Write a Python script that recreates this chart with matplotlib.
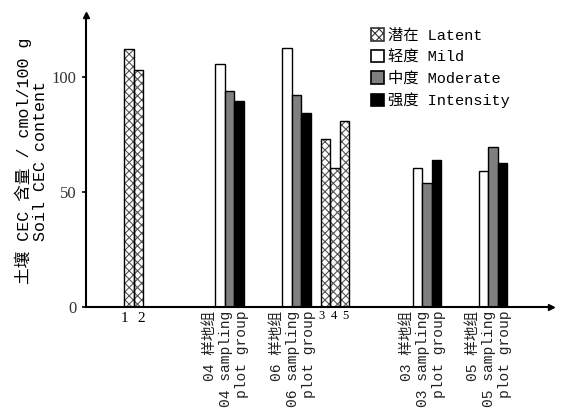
import matplotlib.pyplot as plt
import matplotlib.patches as mpatches

plt.rcParams['font.family'] = ['Liberation Mono', 'Noto Sans CJK SC']
plt.rcParams['hatch.linewidth'] = 0.8

# data (soil CEC, cmol/100 g)
latent_a = [112, 103]          # plots 1, 2
g04 = [105.5, 94, 89.5]        # mild, moderate, intensity
g06 = [112.5, 92, 84.5]
latent_b = [73, 60.5, 81]      # plots 3, 4, 5
g03 = [60.5, 54, 64]
g05 = [59, 69.5, 62.5]

series_names = ['潜在 Latent', '轻度 Mild', '中度 Moderate', '强度 Intensity']
group_labels = ['04 样地组\n04 sampling\nplot group',
                '06 样地组\n06 sampling\nplot group',
                '03 样地组\n03 sampling\nplot group',
                '05 样地组\n05 sampling\nplot group']

# layout
pos_la = [4.5, 5.5]
pos_lb = [25, 26, 27]
grp_pos = [15, 22, 35.6, 42.5]
colors = ['white', '#7f7f7f', 'black']

fig = plt.figure(figsize=(5.61, 4.12), dpi=100)
ax = fig.add_axes([0.153, 0.255, 0.83, 0.709])

def latent_bars(xs, vals):
    ax.bar(xs, vals, width=1, color='white', edgecolor='#555555', hatch='xxxx', lw=0)
    ax.bar(xs, vals, width=1, fill=False, edgecolor='black', lw=1)

latent_bars(pos_la, latent_a)
latent_bars(pos_lb, latent_b)

for c, vals in zip(grp_pos, [g04, g06, g03, g05]):
    for k in range(3):
        ax.bar(c - 1 + k, vals[k], width=1, color=colors[k], edgecolor='black', lw=1)

ax.set_xlim(0, 48.6)
ax.set_ylim(0, 127)
ax.set_yticks([0, 50, 100])
ax.set_yticklabels(['0', '50', '100'], family='Liberation Serif', fontsize=12, color='#333333')
ax.tick_params(axis='y', length=3, width=1.2)
ax.set_xticks([])

for s in ['top', 'right']:
    ax.spines[s].set_visible(False)
for s in ['left', 'bottom']:
    ax.spines[s].set_linewidth(1.5)
ax.plot(1, 0, '>k', ms=5, transform=ax.transAxes, clip_on=False)
ax.plot(0, 1, '^k', ms=5, transform=ax.transAxes, clip_on=False)

# small plot numbers under the latent bars
for x, t in zip([4.0, 5.8], ['1', '2']):
    ax.text(x, -2, t, ha='center', va='top', fontsize=11, family='Liberation Serif')
for x, t in zip([24.6, 25.9, 27.1], ['3', '4', '5']):
    ax.text(x, -1.5, t, ha='center', va='top', fontsize=9, family='Liberation Serif')

for c, lab in zip(grp_pos, group_labels):
    ax.text(c - 0.4, -1.5, lab, rotation=90, ha='center', va='top', fontsize=10.5,
            multialignment='right', linespacing=1.2, color='#222222')

ax.set_ylabel('土壤 CEC 含量 / cmol/100 g\nSoil CEC content', fontsize=12,
              labelpad=3, linespacing=1.1)

handles = [mpatches.Patch(facecolor='white', edgecolor='#333333', hatch='xxxx', lw=1.2),
           mpatches.Patch(facecolor='white', edgecolor='black', lw=1.2),
           mpatches.Patch(facecolor='#7f7f7f', edgecolor='black', lw=1.2),
           mpatches.Patch(facecolor='black', edgecolor='black', lw=1.2)]
ax.legend(handles, series_names, loc='upper left', bbox_to_anchor=(0.6, 0.975),
          frameon=False, fontsize=11, handlelength=0.8, handleheight=0.9,
          handletextpad=0.3, labelspacing=0.45, borderaxespad=0)

fig.savefig('out.png', dpi=100)
